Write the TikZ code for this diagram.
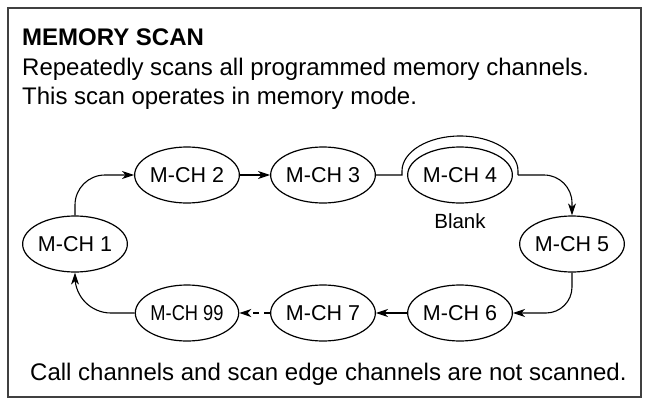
\documentclass[tikz,border=0pt]{standalone}
\usepackage{fontspec}
\setmainfont{Liberation Sans}
\usepackage{tikz}
\usetikzlibrary{shapes, arrows, arrows.meta, positioning, calc}

\begin{document}
\begin{tikzpicture}[x=1pt,y=-1pt,
  chan/.style={ellipse,draw,line width=1.2pt,minimum width=88pt,minimum height=56pt,inner sep=0pt,font=\fontsize{21.5}{24}\selectfont},
  flow/.style={line width=1.1pt,-{Stealth[length=12pt,width=8pt,inset=3.5pt]}},
  txt/.style={anchor=base west,inner sep=0pt,font=\fontsize{24}{28}\selectfont}]
  \useasboundingbox (0,0) rectangle (645,399);

  % Frame
  \draw[line width=1.5pt,black!75] (8,8) rectangle (641,397);

  % Heading and text
  \node[txt,font=\fontsize{24}{28}\selectfont\bfseries] (title) at (22,45) {MEMORY SCAN};
  \node[txt] (line1) at (22,75) {Repeatedly scans all programmed memory channels.};
  \node[txt] (line2) at (22,104) {This scan operates in memory mode.};

  % Memory channels
  \node[chan] (m1) at (75,244) {M-CH 1};
  \node[chan] (m2) at (187,175) {M-CH 2};
  \node[chan] (m3) at (323,175) {M-CH 3};
  \node[chan] (m4) at (460,175) {M-CH 4};
  \node[chan] (m5) at (572,244) {M-CH 5};
  \node[chan] (m6) at (460,313) {M-CH 6};
  \node[chan] (m7) at (323,313) {M-CH 7};
  \node[chan] (m99) at (187,313) {\scalebox{0.85}[1]{M-CH 99}};
  \node[font=\fontsize{20.5}{24}\selectfont] (blank) at (460,221) {Blank};

  % Hop over the blank channel
  \coordinate (hopL) at (402,175);
  \coordinate (hopR) at (518,175);

  % Scan order
  \draw[flow,rounded corners=30pt] (m1.north) |- (m2.west);
  \draw[flow] (m2) -- (m3);
  \draw[line width=1.1pt] (m3.east) -- (hopL) -- ++(0,-4)
    arc[start angle=180,end angle=0,x radius=58pt,y radius=35pt] -- (hopR);
  \draw[flow,rounded corners=28pt] (hopR) -| (m5.north);
  \draw[flow,rounded corners=26pt] (m5.south) |- (m6.east);
  \draw[flow] (m6) -- (m7);
  \draw[flow,dash pattern=on 6pt off 5pt] (m7) -- (m99);
  \draw[flow,rounded corners=36pt] (m99.west) -| (m1.south);

  % Note
  \node[txt] (note) at (30,380) {Call channels and scan edge channels are not scanned.};
\end{tikzpicture}
\end{document}
